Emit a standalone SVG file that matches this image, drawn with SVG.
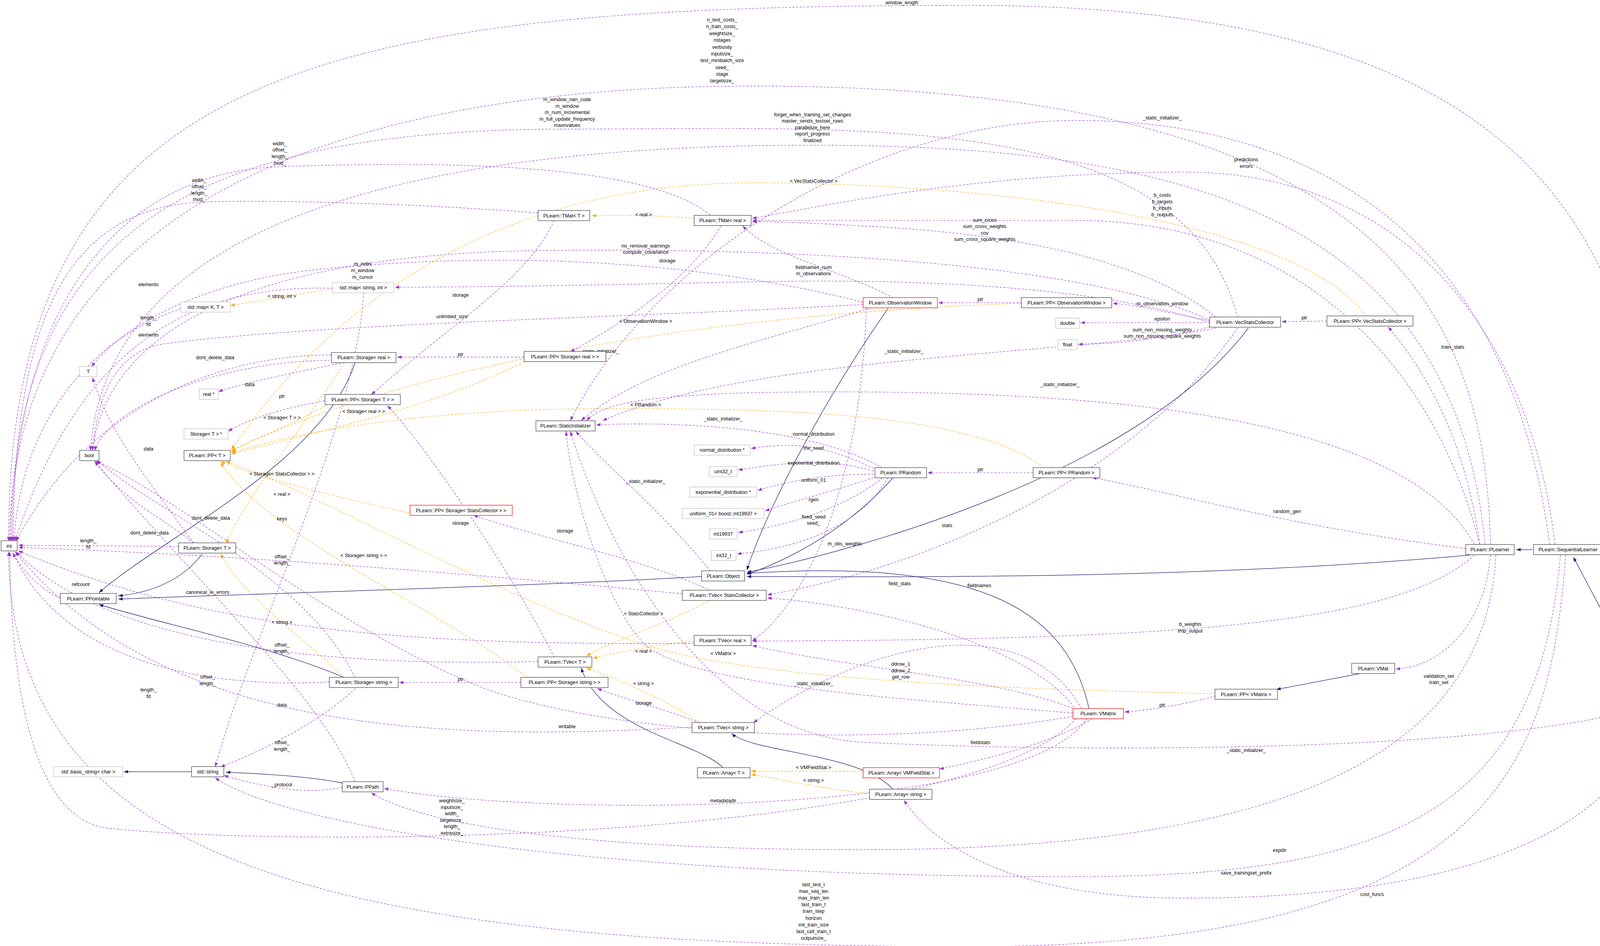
<svg xmlns="http://www.w3.org/2000/svg" width="4320" height="2423" viewBox="0 0 4320 2423">
<style>
text{font-family:"Liberation Sans",Arial,sans-serif;font-size:4.6px;fill:#000}
.nt{text-anchor:middle}
.lb{text-anchor:middle}
rect{fill:#fff;stroke:#404040;stroke-width:0.45}
.g rect{stroke:#bfbfbf}
.r rect{stroke:#ff0000}
.m rect{fill:#bfbfbf}
.p{fill:none;stroke:#9a32cd;stroke-width:0.4;stroke-dasharray:2,1.4;marker-end:url(#ap)}
.o{fill:none;stroke:#ffa500;stroke-width:0.4;stroke-dasharray:2,1.4;marker-end:url(#ao)}
.i{fill:none;stroke:#191970;stroke-width:0.45;marker-end:url(#ai)}
</style>
<defs>
<marker id="ap" markerUnits="userSpaceOnUse" markerWidth="4" markerHeight="3" refX="4" refY="1.5" orient="auto"><path d="M0,0L4,1.5L0,3z" fill="#9a32cd"/></marker>
<marker id="ao" markerUnits="userSpaceOnUse" markerWidth="4" markerHeight="3" refX="4" refY="1.5" orient="auto"><path d="M0,0L4,1.5L0,3z" fill="#ffa500"/></marker>
<marker id="ai" markerUnits="userSpaceOnUse" markerWidth="4" markerHeight="3" refX="4" refY="1.5" orient="auto"><path d="M0,0L4,1.5L0,3z" fill="#191970"/></marker>
</defs>
<rect x="0" y="0" width="4320" height="2423" style="fill:#fff;stroke:none"/>
<g transform="scale(2.755)">
<g id="connectors">
<path class="i" d="M1424,511L1409,511"/>
<path class="i" d="M1530,646L1462,518"/>
<path class="i" d="M1366,516C1100,540 800,536 694,536"/>
<path class="i" d="M1012,659C990,560 900,520 694,533"/>
<path class="i" d="M1160,305C1050,450 760,520 694,532"/>
<path class="i" d="M825,287C760,380 710,480 694,530"/>
<path class="i" d="M830,444C780,500 720,525 694,534"/>
<path class="i" d="M652,536C500,545 200,553 110,557"/>
<path class="i" d="M188,515C165,545 130,552 110,554"/>
<path class="i" d="M330,337C300,430 150,500 92,551"/>
<path class="i" d="M320,630C250,600 150,580 92,562"/>
<path class="i" d="M672,714C650,690 560,680 540,621"/>
<path class="i" d="M830,734C800,700 700,700 680,682"/>
<path class="i" d="M1265,626L1186,641"/>
<path class="i" d="M178,717.5L115,717.5"/>
<path class="i" d="M318,728C290,722 240,719 210,718"/>

<path class="o" d="M645,203C610,200 580,200 550,200.5"/><text class="lb" x="598" y="201">&lt; real &gt;</text>
<path class="o" d="M1270,294C1200,200 900,170 700,170C500,170 330,250 215,418"/><text class="lb" x="756" y="170">&lt; VecStatsCollector &gt;</text>
<path class="o" d="M950,282C700,290 400,330 215,419"/><text class="lb" x="600" y="300">&lt; ObservationWindow &gt;</text>
<path class="o" d="M970,435C900,380 700,380 560,380C400,380 280,400 215,421"/><text class="lb" x="600" y="378">&lt; PRandom &gt;</text>
<path class="o" d="M490,335C400,380 300,400 215,422"/><text class="lb" x="338" y="384">&lt; Storage&lt; real &gt; &gt;</text>
<path class="o" d="M305,376C260,400 230,410 215,420"/><text class="lb" x="262" y="390">&lt; Storage&lt; T &gt; &gt;</text>
<path class="o" d="M390,479C300,460 230,440 205,429"/><text class="lb" x="262" y="442">&lt; Storage&lt; StatsCollector &gt; &gt;</text>
<path class="o" d="M490,630C400,560 250,500 205,430"/><text class="lb" x="338" y="518">&lt; Storage&lt; string &gt; &gt;</text>
<path class="o" d="M1130,645C900,640 700,630 600,600C450,550 300,460 210,429"/><text class="lb" x="672" y="609">&lt; VMatrix &gt;</text>
<path class="o" d="M645,596C610,600 580,605 551,612"/><text class="lb" x="598" y="607">&lt; real &gt;</text>
<path class="o" d="M660,558C620,580 570,595 545,610"/><text class="lb" x="598" y="572">&lt; StatsCollector &gt;</text>
<path class="o" d="M650,672C620,650 570,630 545,621"/><text class="lb" x="598" y="637">&lt; string &gt;</text>
<path class="o" d="M802,717L698,717"/><text class="lb" x="756" y="715">&lt; VMFieldStat &gt;</text>
<path class="o" d="M810,738C760,733 730,725 698,720"/><text class="lb" x="756" y="727">&lt; string &gt;</text>
<path class="o" d="M320,630C280,590 230,560 205,515"/><text class="lb" x="262" y="580">&lt; string &gt;</text>
<path class="o" d="M310,268C270,275 240,280 214,284"/><text class="lb" x="262" y="277">&lt; string, int &gt;</text>
<path class="o" d="M320,337C280,400 230,460 210,505"/><text class="lb" x="262" y="461">&lt; real &gt;</text>

<path class="p" d="M1545,646C1545,300 1520,5 900,5C300,5 8,60 8,503"/><text class="lb" x="838" y="4">window_length</text>
<path class="p" d="M1385,506C1380,300 1300,80 700,80C300,80 10,200 9,503"/>
<text class="lb" x="671" y="20">n_test_costs_</text><text class="lb" x="671" y="26.3">n_train_costs_</text><text class="lb" x="671" y="32.6">weightsize_</text><text class="lb" x="671" y="38.9">nstages</text><text class="lb" x="671" y="45.2">verbosity</text><text class="lb" x="671" y="51.5">inputsize_</text><text class="lb" x="671" y="57.8">test_minibatch_size</text><text class="lb" x="671" y="64.1">seed_</text><text class="lb" x="671" y="70.4">stage</text><text class="lb" x="671" y="76.7">targetsize_</text>
<path class="p" d="M1455,516C1440,700 1400,880 900,880C300,880 10,800 8,513"/>
<text class="lb" x="756" y="824">last_test_t</text><text class="lb" x="756" y="830.2">max_seq_len</text><text class="lb" x="756" y="836.4">max_train_len</text><text class="lb" x="756" y="842.6">last_train_t</text><text class="lb" x="756" y="848.8">train_step</text><text class="lb" x="756" y="855">horizon</text><text class="lb" x="756" y="861.2">init_train_size</text><text class="lb" x="756" y="867.4">last_call_train_t</text><text class="lb" x="756" y="873.6">outputsize_</text>
<path class="p" d="M1150,295C1100,100 800,120 530,120C200,120 12,200 10,503"/>
<text class="lb" x="527" y="94">m_window_nan_code</text><text class="lb" x="527" y="100">m_window</text><text class="lb" x="527" y="106">m_num_incremental</text><text class="lb" x="527" y="112">m_full_update_frequency</text><text class="lb" x="527" y="118">maxnvalues</text>
<path class="p" d="M1380,506C1350,200 1100,135 755,135C400,135 100,200 84,419"/>
<text class="lb" x="755" y="108">forget_when_training_set_changes</text><text class="lb" x="755" y="114">master_sends_testset_rows</text><text class="lb" x="755" y="120">parallelize_here</text><text class="lb" x="755" y="126">report_progress</text><text class="lb" x="755" y="132">finalized</text>
<path class="p" d="M1440,506C1400,200 1200,112 1000,112C800,112 600,250 530,391"/><text class="lb" x="1080" y="111">_static_initializer_</text>
<path class="p" d="M1445,506C1420,300 1300,160 1100,160C900,160 750,195 699,203"/><text class="lb" x="1158" y="150">predictions</text><text class="lb" x="1158" y="156">errors</text>
<path class="p" d="M660,200C600,150 400,150 260,155C100,160 12,300 11,503"/>
<text class="lb" x="260" y="135">width_</text><text class="lb" x="260" y="141">offset_</text><text class="lb" x="260" y="147">length_</text><text class="lb" x="260" y="153">mod_</text>
<path class="p" d="M500,198C400,190 250,185 185,188C60,195 14,300 12,503"/>
<text class="lb" x="185" y="169">width_</text><text class="lb" x="185" y="175">offset_</text><text class="lb" x="185" y="181">length_</text><text class="lb" x="185" y="187">mod_</text>
<path class="p" d="M1375,506C1330,330 1200,205 1000,205C850,205 750,205 699,205"/>
<text class="lb" x="1080" y="183">b_costs</text><text class="lb" x="1080" y="189">b_targets</text><text class="lb" x="1080" y="195">b_inputs</text><text class="lb" x="1080" y="201">b_outputs</text>
<path class="p" d="M1130,295C1050,230 900,215 800,210C750,207 720,206 699,206"/>
<text class="lb" x="915" y="206">sum_cross</text><text class="lb" x="915" y="212">sum_cross_weights</text><text class="lb" x="915" y="218">cov</text><text class="lb" x="915" y="224">sum_cross_square_weights</text>
<path class="p" d="M1125,298C1000,240 700,230 500,233C250,236 100,300 86,419"/><text class="lb" x="600" y="230">no_removal_warnings</text><text class="lb" x="600" y="236">compute_covariance</text>
<path class="p" d="M802,281C600,230 400,240 300,250C100,270 20,380 13,503"/><text class="lb" x="337" y="247">m_nobs</text><text class="lb" x="337" y="253">m_window</text><text class="lb" x="337" y="259">m_cursor</text>
<path class="p" d="M830,277C780,250 720,240 690,210"/>
<path class="p" d="M1125,300C1000,260 800,260 700,262C550,265 450,267 367,267"/><text class="lb" x="756" y="250">fieldnames_num</text><text class="lb" x="756" y="256">m_observations</text>
<path class="p" d="M950,281.5L872,281.5"/><text class="lb" x="911" y="280">ptr</text>
<path class="p" d="M1124,298C1080,290 1060,284 1034,282"/><text class="lb" x="1080" y="284">m_observation_window</text>
<path class="p" d="M1124,300L1004,300"/><text class="lb" x="1080" y="298">epsilon</text>
<path class="p" d="M1124,304C1080,315 1040,320 1002,320"/><text class="lb" x="1080" y="308">sum_non_missing_weights</text><text class="lb" x="1080" y="314">sum_non_missing_square_weights</text>
<path class="p" d="M1233,298.5L1191,299"/><text class="lb" x="1212" y="297">ptr</text>
<path class="p" d="M1375,506C1360,400 1320,340 1290,304"/><text class="lb" x="1350" y="324">train_stats</text>
<path class="p" d="M670,210C640,260 580,300 530,327"/><text class="lb" x="620" y="244">storage</text>
<path class="p" d="M309,268C200,265 80,300 14,503"/><text class="lb" x="138" y="266">elements</text>
<path class="p" d="M308,330C200,330 80,380 15,503"/><text class="lb" x="138" y="297">length_</text><text class="lb" x="138" y="303">fd</text>
<path class="p" d="M168,287C130,300 100,320 85,341"/><text class="lb" x="138" y="313">elements</text>
<path class="p" d="M802,283C600,295 300,300 150,320C100,330 90,380 86,419"/><text class="lb" x="420" y="296">unlimited_size</text>
<path class="p" d="M487,332L369,332"/><text class="lb" x="428" y="331">ptr</text>
<path class="p" d="M310,335C200,335 100,380 88,419"/><text class="lb" x="200" y="334">dont_delete_data</text>
<path class="p" d="M320,337C280,345 230,355 203,364"/><text class="lb" x="232" y="359">data</text>
<path class="p" d="M810,286C700,320 600,340 540,391"/><text class="lb" x="557" y="328">_static_initializer_</text>
<path class="p" d="M1130,305C1000,330 700,330 560,391"/><text class="lb" x="840" y="328">_static_initializer_</text>
<path class="p" d="M1370,506C1300,380 1000,360 700,365C600,368 560,375 545,391"/><text class="lb" x="985" y="359">_static_initializer_</text>
<path class="p" d="M305,372C260,380 230,390 212,401"/><text class="lb" x="262" y="370">ptr</text>
<path class="p" d="M180,505C140,450 100,400 86,351"/><text class="lb" x="138" y="419">data</text>
<path class="p" d="M820,435C750,395 620,392 554,395"/><text class="lb" x="672" y="391">_static_initializer_</text>
<path class="p" d="M515,205C490,260 420,300 345,367"/><text class="lb" x="428" y="276">storage</text>
<path class="p" d="M515,611C480,540 400,420 360,377"/><text class="lb" x="428" y="488">storage</text>
<path class="p" d="M815,437C770,415 740,410 698,417"/><text class="lb" x="756" y="405">normal_distribution</text>
<path class="p" d="M815,439C770,425 730,430 686,437"/><text class="lb" x="756" y="418">the_seed</text>
<path class="p" d="M815,441C780,440 740,445 704,456"/><text class="lb" x="756" y="432">exponential_distribution</text>
<path class="p" d="M815,443C780,455 740,465 711,475"/><text class="lb" x="756" y="448">uniform_01</text>
<path class="p" d="M820,444C790,470 730,490 686,495"/><text class="lb" x="756" y="466">rgen</text>
<path class="p" d="M825,444C800,490 740,510 685,515"/><text class="lb" x="756" y="482">fixed_seed</text><text class="lb" x="756" y="488">seed_</text>
<path class="p" d="M960,439.5L862,439.5"/><text class="lb" x="911" y="438">ptr</text>
<path class="p" d="M1362,510C1200,490 1100,460 1015,444"/><text class="lb" x="1196" y="477">random_gen</text>
<path class="p" d="M660,531C620,480 560,430 535,401"/><text class="lb" x="600" y="449">_static_initializer_</text>
<path class="p" d="M1150,305C1050,450 850,530 713,553"/><text class="lb" x="880" y="490">stats</text>
<path class="p" d="M660,549C600,520 500,500 440,479"/><text class="lb" x="525" y="495">storage</text>
<path class="p" d="M805,286C800,450 750,560 699,596"/><text class="lb" x="785" y="507">m_obs_weights</text>
<path class="p" d="M1000,660C950,590 780,560 713,556"/><text class="lb" x="836" y="544">field_stats</text>
<path class="p" d="M1005,659C950,560 800,600 700,672"/><text class="lb" x="910" y="546">fieldnames</text>
<path class="p" d="M330,630C280,530 150,480 90,428"/><text class="lb" x="196" y="483">dont_delete_data</text>
<path class="p" d="M180,505C150,480 120,470 88,429"/><text class="lb" x="139" y="497">dont_delete_data</text>
<path class="p" d="M338,272C330,400 230,600 200,713"/><text class="lb" x="262" y="484">keys</text>
<path class="p" d="M634,552C400,530 200,515 17,509"/><text class="lb" x="262" y="519">offset_</text><text class="lb" x="262" y="525">length_</text>
<path class="p" d="M166,508L17,507"/><text class="lb" x="82" y="504">length_</text><text class="lb" x="82" y="510">fd</text>
<path class="p" d="M330,727C300,650 200,560 88,429"/><text class="lb" x="193" y="552">canonical_in_errors</text>
<path class="p" d="M56,556C40,550 20,530 12,514"/><text class="lb" x="75" y="545">refcount</text>
<path class="p" d="M1370,516C1300,580 1100,595 699,596"/><text class="lb" x="1106" y="582">b_weights</text><text class="lb" x="1106" y="588">tmp_output</text>
<path class="p" d="M645,598C400,600 200,590 17,512"/><text class="lb" x="262" y="601">offset_</text><text class="lb" x="262" y="607">length_</text>
<path class="p" d="M1385,516C1380,580 1340,620 1297,622"/><text class="lb" x="1337" y="630">validation_set</text><text class="lb" x="1337" y="636">train_set</text>
<path class="p" d="M1000,660C930,630 780,620 699,600"/><text class="lb" x="837" y="619">ddrow_1</text><text class="lb" x="837" y="625">ddrow_2</text><text class="lb" x="837" y="631">get_row</text>
<path class="p" d="M500,615C300,620 100,600 15,513"/><text class="lb" x="193" y="631">offset_</text><text class="lb" x="193" y="637">length_</text>
<path class="p" d="M306,634C200,640 60,620 12,514"/><text class="lb" x="138" y="643">length_</text><text class="lb" x="138" y="649">fd</text>
<path class="p" d="M484,634.5L371,634.5"/><text class="lb" x="428" y="633">ptr</text>
<path class="p" d="M997,663C850,650 650,640 600,600C560,560 530,450 526,401"/><text class="lb" x="756" y="637">_static_initializer_</text>
<path class="p" d="M1130,647C1100,655 1070,660 1045,662"/><text class="lb" x="1080" y="657">ptr</text>
<path class="p" d="M650,672C620,660 580,650 555,640"/><text class="lb" x="598" y="655">storage</text>
<path class="p" d="M330,640C300,670 240,700 205,713"/><text class="lb" x="262" y="657">data</text>
<path class="p" d="M997,666C800,700 560,680 450,640C300,580 150,450 88,429"/><text class="lb" x="527" y="677">writable</text>
<path class="p" d="M643,676C400,690 150,680 14,513"/><text class="lb" x="262" y="692">offset_</text><text class="lb" x="262" y="698">length_</text>
<path class="p" d="M1015,668C980,690 920,705 873,715"/><text class="lb" x="911" y="692">fieldstats</text>
<path class="p" d="M1530,656C1400,700 1000,700 800,690C650,680 560,500 530,401"/><text class="lb" x="1158" y="699">_static_initializer_</text>
<path class="p" d="M318,732C280,740 240,730 208,721"/><text class="lb" x="262" y="731">_protocol</text>
<path class="p" d="M1010,668C950,760 500,760 357,733"/><text class="lb" x="672" y="746">metadatadir</text>
<path class="p" d="M1000,668C900,780 300,790 100,770C20,760 10,600 9,513"/>
<text class="lb" x="420" y="746">weightsize_</text><text class="lb" x="420" y="752">inputsize_</text><text class="lb" x="420" y="758">width_</text><text class="lb" x="420" y="764">targetsize_</text><text class="lb" x="420" y="770">length_</text><text class="lb" x="420" y="776">extrasize_</text>
<path class="p" d="M1390,516C1380,700 1200,790 800,790C500,790 380,760 345,737"/><text class="lb" x="1189" y="792">expdir</text>
<path class="p" d="M1450,516C1430,750 1300,815 1000,815C500,815 250,760 200,723"/><text class="lb" x="1158" y="813">save_trainingset_prefix</text>
<path class="p" d="M1540,656C1500,800 1300,835 1100,835C950,835 870,790 840,744"/><text class="lb" x="1275" y="833">cost_funcs</text>
</g>

<g id="MovingAverage" class="m"><rect x="1508" y="646.2" width="58" height="9.5"/><text class="nt" x="1537" y="652.6">PLearn::MovingAverage</text></g>
<g id="SequentialLearner"><rect x="1425" y="506.2" width="64" height="9.5"/><text class="nt" x="1457" y="512.6">PLearn::SequentialLearner</text></g>
<g id="PLearner"><rect x="1362" y="506.2" width="45" height="9.5"/><text class="nt" x="1384.5" y="512.6">PLearn::PLearner</text></g>
<g id="VMat"><rect x="1256" y="616.7" width="40" height="9.5"/><text class="nt" x="1276" y="623.1">PLearn::VMat</text></g>
<g id="PPVMatrix"><rect x="1129" y="640.7" width="58" height="9.5"/><text class="nt" x="1158" y="647.1">PLearn::PP&lt; VMatrix &gt;</text></g>
<g id="VMatrix" class="r"><rect x="997" y="658.7" width="47" height="9.5"/><text class="nt" x="1020.5" y="665.1">PLearn::VMatrix</text></g>
<g id="ArrayVMFieldStat" class="r"><rect x="802" y="713.7" width="71" height="9.5"/><text class="nt" x="837.5" y="720.1">PLearn::Array&lt; VMFieldStat &gt;</text></g>
<g id="ArrayString"><rect x="808" y="733.7" width="58" height="9.5"/><text class="nt" x="837" y="740.1">PLearn::Array&lt; string &gt;</text></g>
<g id="ArrayT"><rect x="648" y="713.7" width="49" height="9.5"/><text class="nt" x="672.5" y="720.1">PLearn::Array&lt; T &gt;</text></g>
<g id="TVecString"><rect x="643" y="671.7" width="58" height="9.5"/><text class="nt" x="672" y="678.1">PLearn::TVec&lt; string &gt;</text></g>
<g id="TVecT"><rect x="500" y="610.7" width="50" height="9.5"/><text class="nt" x="525" y="617.1">PLearn::TVec&lt; T &gt;</text></g>
<g id="PPStorageString"><rect x="484" y="629.7" width="81" height="9.5"/><text class="nt" x="524.5" y="636.1">PLearn::PP&lt; Storage&lt; string &gt; &gt;</text></g>
<g id="StorageString"><rect x="306" y="629.7" width="64" height="9.5"/><text class="nt" x="338" y="636.1">PLearn::Storage&lt; string &gt;</text></g>
<g id="PPath"><rect x="318" y="726.7" width="38" height="9.5"/><text class="nt" x="337" y="733.1">PLearn::PPath</text></g>
<g id="stdstring"><rect x="178" y="712.7" width="30" height="9.5"/><text class="nt" x="193" y="719.1">std::string</text></g>
<g id="basicstring" class="g"><rect x="50" y="712.7" width="64" height="9.5"/><text class="nt" x="82" y="719.1">std::basic_string&lt; char &gt;</text></g>
<g id="int"><rect x="1" y="502.7" width="15" height="9.5"/><text class="nt" x="8.5" y="509.1">int</text></g>
<g id="PPointable"><rect x="56" y="551.7" width="52" height="9.5"/><text class="nt" x="82" y="558.1">PLearn::PPointable</text></g>
<g id="StorageT"><rect x="166" y="504.7" width="53" height="9.5"/><text class="nt" x="192.5" y="511.1">PLearn::Storage&lt; T &gt;</text></g>
<g id="bool"><rect x="74" y="418.7" width="18" height="9.5"/><text class="nt" x="83" y="425.1">bool</text></g>
<g id="T" class="g"><rect x="74" y="340.7" width="16" height="9.5"/><text class="nt" x="82" y="347.1">T</text></g>
<g id="PPT"><rect x="171" y="418.7" width="43" height="9.5"/><text class="nt" x="192.5" y="425.1">PLearn::PP&lt; T &gt;</text></g>
<g id="StorageTptr" class="g"><rect x="171" y="398.7" width="41" height="9.5"/><text class="nt" x="191.5" y="405.1">Storage&lt; T &gt; *</text></g>
<g id="realptr" class="g"><rect x="185" y="361.7" width="18" height="9.5"/><text class="nt" x="194" y="368.1">real *</text></g>
<g id="PPStorageT"><rect x="302" y="366.7" width="70" height="9.5"/><text class="nt" x="337" y="373.1">PLearn::PP&lt; Storage&lt; T &gt; &gt;</text></g>
<g id="StorageReal"><rect x="308" y="327.7" width="60" height="9.5"/><text class="nt" x="338" y="334.1">PLearn::Storage&lt; real &gt;</text></g>
<g id="mapKT" class="g"><rect x="168" y="280.7" width="46" height="9.5"/><text class="nt" x="191" y="287.1">std::map&lt; K, T &gt;</text></g>
<g id="mapStringInt" class="g"><rect x="309" y="262.7" width="57" height="9.5"/><text class="nt" x="337.5" y="269.1">std::map&lt; string, int &gt;</text></g>
<g id="TMatT"><rect x="500" y="195.7" width="48" height="9.5"/><text class="nt" x="524" y="202.1">PLearn::TMat&lt; T &gt;</text></g>
<g id="TMatReal"><rect x="645" y="200.2" width="53" height="9.5"/><text class="nt" x="671.5" y="206.6">PLearn::TMat&lt; real &gt;</text></g>
<g id="PPStorageReal"><rect x="487" y="326.7" width="76" height="9.5"/><text class="nt" x="525" y="333.1">PLearn::PP&lt; Storage&lt; real &gt; &gt;</text></g>
<g id="StaticInitializer"><rect x="498" y="391.2" width="55" height="9.5"/><text class="nt" x="525.5" y="397.6">PLearn::StaticInitializer</text></g>
<g id="ObservationWindow" class="r"><rect x="802" y="276.7" width="69" height="9.5"/><text class="nt" x="836.5" y="283.1">PLearn::ObservationWindow</text></g>
<g id="PPObservationWindow"><rect x="949" y="276.7" width="84" height="9.5"/><text class="nt" x="991" y="283.1">PLearn::PP&lt; ObservationWindow &gt;</text></g>
<g id="double" class="g"><rect x="981" y="295.7" width="22" height="9.5"/><text class="nt" x="992" y="302.1">double</text></g>
<g id="float" class="g"><rect x="983" y="315.7" width="18" height="9.5"/><text class="nt" x="992" y="322.1">float</text></g>
<g id="VecStatsCollector"><rect x="1124" y="294.7" width="66" height="9.5"/><text class="nt" x="1157" y="301.1">PLearn::VecStatsCollector</text></g>
<g id="PPVecStatsCollector"><rect x="1233" y="293.7" width="80" height="9.5"/><text class="nt" x="1273" y="300.1">PLearn::PP&lt; VecStatsCollector &gt;</text></g>
<g id="normal" class="g"><rect x="645" y="413.7" width="52" height="9.5"/><text class="nt" x="671" y="420.1">normal_distribution *</text></g>
<g id="uint32" class="g"><rect x="659" y="433.7" width="26" height="9.5"/><text class="nt" x="672" y="440.1">uint32_t</text></g>
<g id="exponential" class="g"><rect x="641" y="452.7" width="62" height="9.5"/><text class="nt" x="672" y="459.1">exponential_distribution *</text></g>
<g id="uniform01" class="g"><rect x="634" y="472.7" width="76" height="9.5"/><text class="nt" x="672" y="479.1">uniform_01&lt; boost::mt19937 &gt;</text></g>
<g id="mt19937" class="g"><rect x="659" y="491.7" width="26" height="9.5"/><text class="nt" x="672" y="498.1">mt19937</text></g>
<g id="int32" class="g"><rect x="661" y="511.7" width="23" height="9.5"/><text class="nt" x="672.5" y="518.1">int32_t</text></g>
<g id="PRandom"><rect x="813" y="434.7" width="48" height="9.5"/><text class="nt" x="837" y="441.1">PLearn::PRandom</text></g>
<g id="PPPRandom"><rect x="960" y="434.7" width="62" height="9.5"/><text class="nt" x="991" y="441.1">PLearn::PP&lt; PRandom &gt;</text></g>
<g id="PPStorageStatsCollector" class="r"><rect x="381" y="469.7" width="95" height="9.5"/><text class="nt" x="428.5" y="476.1">PLearn::PP&lt; Storage&lt; StatsCollector &gt; &gt;</text></g>
<g id="Object"><rect x="652" y="530.7" width="40" height="9.5"/><text class="nt" x="672" y="537.1">PLearn::Object</text></g>
<g id="TVecStatsCollector"><rect x="634" y="548.7" width="78" height="9.5"/><text class="nt" x="673" y="555.1">PLearn::TVec&lt; StatsCollector &gt;</text></g>
<g id="TVecReal"><rect x="645" y="590.7" width="53" height="9.5"/><text class="nt" x="671.5" y="597.1">PLearn::TVec&lt; real &gt;</text></g>
</g>
</svg>
